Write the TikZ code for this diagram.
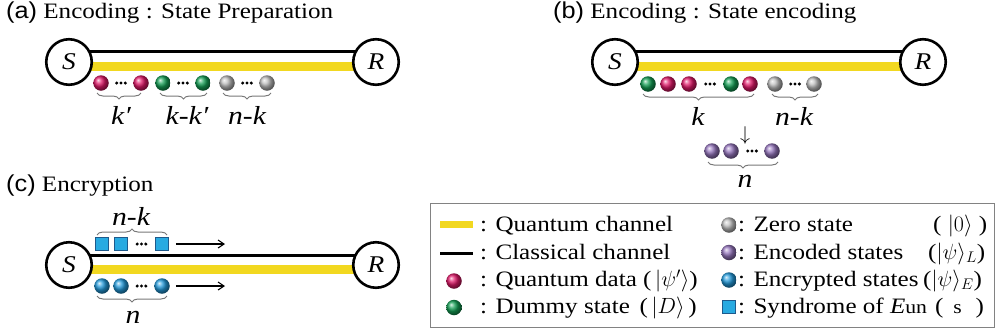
\RequirePackage{fix-cm}
\documentclass[tikz,border=0pt]{standalone}
\usepackage{fontspec}
\setmainfont[FakeStretch=1.14]{Liberation Serif}
\newfontfamily\panelfont[FakeStretch=1.1]{Liberation Sans}
\usetikzlibrary{decorations.pathreplacing,arrows.meta,backgrounds}
\definecolor{qyellow}{RGB}{242,216,32}
\definecolor{qred}{RGB}{225,25,105}
\definecolor{qgreen}{RGB}{20,160,85}
\definecolor{qgray}{RGB}{190,190,190}
\definecolor{qpurple}{RGB}{150,118,190}
\definecolor{qblue}{RGB}{35,155,220}
\definecolor{sqfill}{RGB}{40,170,225}
\definecolor{sqdraw}{RGB}{30,90,140}
\definecolor{bracegray}{RGB}{120,120,120}
\definecolor{boxgray}{RGB}{130,130,130}
\newcommand\tdots[2]{\fill (#1-4.3,#2) circle[radius=1.7pt] (#1,#2) circle[radius=1.7pt] (#1+4.3,#2) circle[radius=1.7pt];}
\begin{document}
\begin{tikzpicture}[x=1pt,y=-1pt,
 endpt/.style={circle,draw=black,line width=2.6pt,fill=white,minimum size=45.5pt,inner sep=0pt,font=\fontsize{24}{28}\selectfont\itshape},
 qch/.style={draw=qyellow,line width=9.5pt},
 cch/.style={draw=black,line width=3pt},
 qb/.style={circle,inner sep=0pt,minimum size=15.5pt,ball color=#1},
 sq/.style={rectangle,inner sep=0pt,minimum size=13pt,fill=sqfill,draw=sqdraw,line width=0.6pt},
 brc/.style={decorate,decoration={brace,amplitude=6pt},draw=bracegray,line width=1pt},
 brcm/.style={decorate,decoration={brace,amplitude=6pt,mirror},draw=bracegray,line width=1pt},
 lab/.style={font=\fontsize{26}{30}\selectfont\itshape,inner sep=0pt,anchor=base},
 ttl/.style={font=\fontsize{22}{26}\selectfont,anchor=base west,inner sep=0pt},
 txt/.style={font=\fontsize{22}{26}\selectfont,anchor=base west,inner sep=0pt},
 arr/.style={-{Straight Barb[length=6pt,width=8pt]},line width=1.1pt},
]
\useasboundingbox (0,0) rectangle (996,335);

% ---------- titles
\node[ttl] (ta) at (6,18.5) {{\panelfont\fontsize{23}{26}\selectfont(a)} Encoding : State Preparation};
\node[ttl] (tb) at (553,18.5) {{\panelfont\fontsize{23}{26}\selectfont(b)} Encoding : State encoding};
\node[ttl] (tc) at (6,191) {{\panelfont\fontsize{23}{26}\selectfont(c)} Encryption};

% ---------- panel (a)
\node[endpt] (aS) at (69,62) {S};
\node[endpt] (aR) at (376,62) {R};
\begin{scope}[on background layer]
\draw[qch] ([yshift=-4.5pt]aS.center) -- ([yshift=-4.5pt]aR.center);
\draw[cch] ([yshift=10.5pt]aS.center) -- ([yshift=10.5pt]aR.center);
\end{scope}
\node[qb=qred] (a1) at (101,83) {};
\tdots{121}{83}
\node[qb=qred] (a2) at (141,83) {};
\node[qb=qgreen] (a3) at (163,83) {};
\tdots{183}{83}
\node[qb=qgreen] (a4) at (203,83) {};
\node[qb=qgray] (a5) at (227,83) {};
\tdots{247}{83}
\node[qb=qgray] (a6) at (267,83) {};
\draw[brcm] (97,93) -- (141,93);
\draw[brcm] (160,93) -- (207,93);
\draw[brcm] (223,93) -- (271,93);
\node[lab] (la1) at (121,124) {k′};
\node[lab] (la2) at (187,124) {k-k′};
\node[lab] (la3) at (247,124) {n-k};

% ---------- panel (b)
\node[endpt] (bS) at (615,62) {S};
\node[endpt] (bR) at (923,62) {R};
\begin{scope}[on background layer]
\draw[qch] ([yshift=-4.5pt]bS.center) -- ([yshift=-4.5pt]bR.center);
\draw[cch] ([yshift=10.5pt]bS.center) -- ([yshift=10.5pt]bR.center);
\end{scope}
\node[qb=qgreen] (b1) at (648,84) {};
\node[qb=qred] (b2) at (668,84) {};
\node[qb=qred] (b3) at (689,84) {};
\tdots{710}{84}
\node[qb=qgreen] (b4) at (731,84) {};
\node[qb=qred] (b5) at (750,84) {};
\node[qb=qgray] (b6) at (775,84) {};
\tdots{795}{84}
\node[qb=qgray] (b7) at (814,84) {};
\draw[brcm] (643,94) -- (754,94);
\draw[brcm] (772,94) -- (818,94);
\node[lab] (lb1) at (698,125) {k};
\node[lab] (lb2) at (794,125) {n-k};
\node[font=\fontsize{20}{24}\selectfont,inner sep=0pt] (darr) at (745,135) {$\downarrow$};
\node[qb=qpurple] (p1) at (712,151) {};
\node[qb=qpurple] (p2) at (731,151) {};
\tdots{752}{151}
\node[qb=qpurple] (p3) at (772,151) {};
\draw[brcm] (708,162) -- (778,162);
\node[lab] (lb3) at (745,187) {n};

% ---------- panel (c)
\node[endpt] (cS) at (69,265) {S};
\node[endpt] (cR) at (376,265) {R};
\begin{scope}[on background layer]
\draw[qch] ([yshift=-4.5pt]cS.center) -- ([yshift=-4.5pt]cR.center);
\draw[cch] ([yshift=10pt]cS.center) -- ([yshift=10pt]cR.center);
\end{scope}
\node[sq] (s1) at (102,244) {};
\node[sq] (s2) at (121,244) {};
\tdots{141.5}{244}
\node[sq] (s3) at (162,244) {};
\coordinate (sa) at (225,244);
\draw[arr] ([xshift=7pt]s3.east) -- (sa);
\draw[brc] (97,235) -- (167,235);
\node[lab] (lc1) at (131,225) {n-k};
\node[qb=qblue] (e1) at (102,286) {};
\node[qb=qblue] (e2) at (121,286) {};
\tdots{141.5}{286}
\node[qb=qblue] (e3) at (162,286) {};
\coordinate (ea) at (225,286);
\draw[arr] ([xshift=6pt]e3.east) -- (ea);
\draw[brcm] (97,296) -- (167,296);
\node[lab] (lc2) at (133,323) {n};

% ---------- legend
\node[draw=boxgray,line width=1pt,minimum width=564pt,minimum height=124pt,anchor=north west,inner sep=0pt] (legend) at (430,203) {};
\draw[qyellow,line width=7pt] (440,224.5) -- (473,224.5);
\draw[black,line width=3pt] (440,253) -- (473,253);
\node[qb=qred] (lg1) at (454,281) {};
\node[qb=qgreen] (lg2) at (454,307.5) {};
\node[txt] (lt1) at (480,231) {: Quantum channel};
\node[txt] (lt2) at (480,259) {: Classical channel};
\node[txt] (lt3) at (480,286) {: Quantum data (\,$|\psi'\rangle$)};
\node[txt] (lt4) at (480,313) {: Dummy state};
\node[txt,anchor=base east] (lt4b) at (697,313) {(\,$|D\rangle$\,)};
\node[qb=qgray] (lg3) at (729,225) {};
\node[qb=qpurple] (lg4) at (729,252.5) {};
\node[qb=qblue] (lg5) at (729,280) {};
\node[sq] (lg6) at (729,307) {};
\node[txt] (rt1) at (738,231) {: Zero state};
\node[txt] (rt2) at (738,259) {: Encoded states};
\node[txt] (rt3) at (738,286) {: Encrypted states};
\node[txt] (rt4) at (738,313) {: Syndrome of \textit{E}{\fontsize{19}{22}\selectfont un}};
\node[txt] (rp1) at (933,231) {( $|0\rangle$ )};
\node[txt] (rp2) at (928,259) {($|\psi\rangle_{L}$)};
\node[txt] (rp3) at (923,286) {($|\psi\rangle_{E}$)};
\node[txt] (rp4) at (935,313) {( \,{\fontsize{19}{22}\selectfont s}\, \,)};
\end{tikzpicture}
\end{document}
